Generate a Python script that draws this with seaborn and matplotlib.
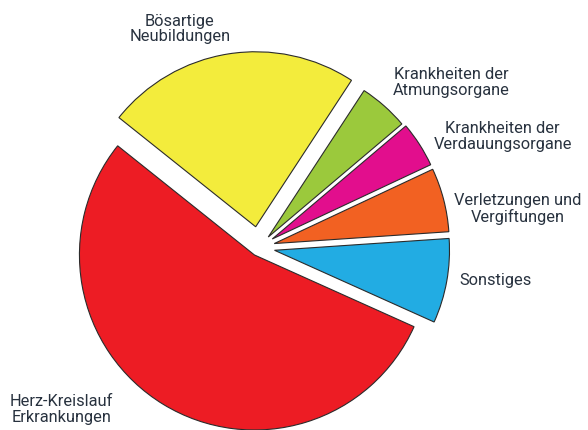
import matplotlib
matplotlib.use("Agg")
import matplotlib.pyplot as plt
import seaborn as sns

# values (percent)
categories = ["Herz-Kreislauf\nErkrankungen", "Sonstiges", "Verletzungen und\nVergiftungen",
              "Krankheiten der\nVerdauungsorgane", "Krankheiten der\nAtmungsorgane",
              "Bösartige\nNeubildungen"]
values = [54.0, 7.8, 5.9, 4.2, 4.6, 23.5]
colors = ["#ED1C24", "#22ACE3", "#F26122", "#E20E8D", "#9BC93C", "#F3EC3C"]
explode = [0.05, 0.09, 0.09, 0.09, 0.08, 0.12]

# label anchor points (axes fraction)
label_pos = [(0.104, 0.050), (0.843, 0.350), (0.880, 0.515),
             (0.855, 0.683), (0.768, 0.808), (0.306, 0.933)]

sns.set_theme(style="white")
plt.rcParams["font.family"] = ["Roboto", "DejaVu Sans"]

fig = plt.figure(figsize=(5.88, 4.31), dpi=100)
ax = fig.add_axes([0, 0, 1, 1])

# pie radius 1 -> 175 px, centre in px from top-left
px = 175.0
cx, cy = 259.0, 248.5
ax.pie(values, colors=colors, explode=explode, startangle=141.4,
       counterclock=True, radius=1.0,
       wedgeprops=dict(edgecolor="#2b2b2b", linewidth=0.8))
ax.set_xlim(-cx / px, (588 - cx) / px)
ax.set_ylim(-(431 - cy) / px, cy / px)
ax.set_aspect("equal")
ax.axis("off")

for name, (x, y) in zip(categories, label_pos):
    ax.text(x, y, name, transform=ax.transAxes, ha="center", va="center",
            fontsize=11.8, color="#28323f", linespacing=1.05)

fig.savefig("out.png", dpi=100)
plt.close(fig)
